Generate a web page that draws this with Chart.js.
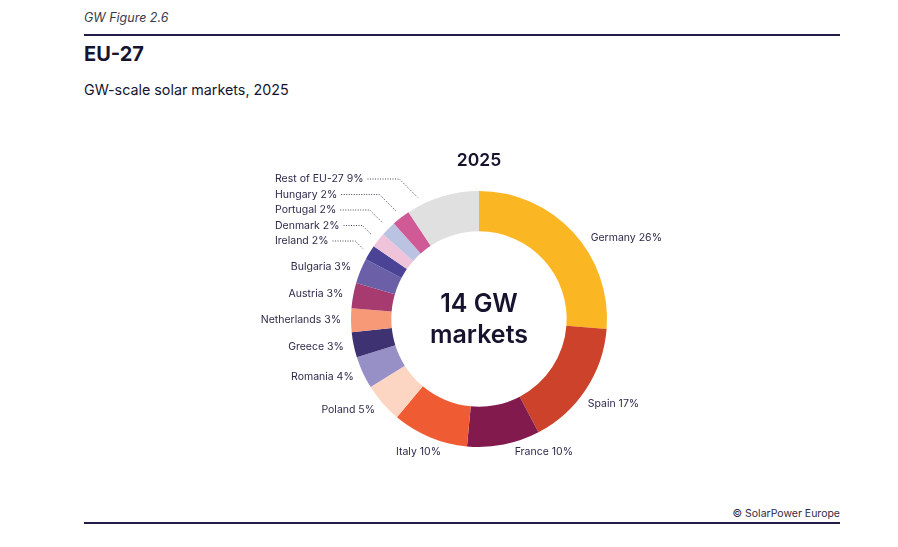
<!DOCTYPE html>
<html>
<head>
<meta charset="utf-8">
<script src="https://cdn.jsdelivr.net/npm/chart.js@4"></script>
<style>
  body { margin: 0; width: 898px; height: 547px; background: #fff; font-family: Inter, "Noto Sans", sans-serif; color: #16142f; overflow: hidden; }
  .fig { position: absolute; left: 84px; top: 10px; font-size: 12.5px; font-style: italic; color: #3b3a4a; }
  .rule { position: absolute; left: 84px; width: 756px; height: 1.5px; background: #221d48; }
  .title { position: absolute; left: 84px; top: 42px; font-size: 20px; font-weight: 700; }
  .sub { position: absolute; left: 84px; top: 81px; font-size: 14.3px; }
  .credit { position: absolute; right: 58px; top: 507px; font-size: 10.5px; color: #2e2c45; }
  #wrap { position: absolute; left: 0; top: 0; width: 898px; height: 547px; }
</style>
</head>
<body>
<div class="fig">GW Figure 2.6</div>
<div class="rule" style="top:34px"></div>
<div class="title">EU-27</div>
<div class="sub">GW-scale solar markets, 2025</div>
<div class="credit">© SolarPower Europe</div>
<div class="rule" style="top:522px"></div>
<div id="wrap"><canvas id="chart"></canvas></div>
<script>
const markets = ['Germany', 'Spain', 'France', 'Italy', 'Poland', 'Romania', 'Greece', 'Netherlands',
    'Austria', 'Bulgaria', 'Ireland', 'Denmark', 'Portugal', 'Hungary', 'Rest of EU-27'];
const shares = [26.3, 16.1, 9.2, 9.6, 5.0, 4.1, 3.2, 3.0, 3.2, 3.2, 1.9, 1.9, 1.9, 2.3, 9.3];
const shareLabels = ['26%', '17%', '10%', '10%', '5%', '4%', '3%', '3%', '3%', '3%', '2%', '2%', '2%', '2%', '9%'];
const sliceColors = ['#fbb723', '#cc422b', '#821a4e', '#ef5b33', '#fcd5c3', '#9690c6', '#3e3272', '#f79877',
    '#a73a6e', '#6b5fa8', '#4b4396', '#efc3d9', '#bac3e2', '#cf5a96', '#e0e0e0'];

// small slices get a stacked callout column with dotted leaders (top row first)
const calloutOrder = [14, 13, 12, 11, 10];
// label angle overrides in clock degrees (otherwise mid-angle of the slice)
const labelAngles = { 0: 54, 1: 128, 2: 165, 3: 196 };

const labelColor = '#2c2a4a';

const sliceLabels = {
    id: 'sliceLabels',
    afterDatasetsDraw(chart) {
        const ctx = chart.ctx;
        const arcs = chart.getDatasetMeta(0).data;
        const cx = arcs[0].x, cy = arcs[0].y, R = arcs[0].outerRadius;
        ctx.save();
        ctx.font = '10.5px Inter';
        ctx.fillStyle = labelColor;
        ctx.strokeStyle = '#4a4858';
        ctx.lineWidth = 1;
        arcs.forEach((arc, i) => {
            const text = markets[i] + ' ' + shareLabels[i];
            const row = calloutOrder.indexOf(i);
            if (row >= 0) {
                const f = i === 14 ? 0.2 : 0.5;
                const a = arc.startAngle + (arc.endAngle - arc.startAngle) * f;
                const ax = cx + Math.cos(a) * (R + 8), ay = cy + Math.sin(a) * (R + 8);
                const tx = cx - 204, ty = cy - 140 + row * 15.5;
                ctx.textAlign = 'left';
                ctx.textBaseline = 'middle';
                ctx.fillText(text, tx, ty);
                const w = ctx.measureText(text).width;
                ctx.setLineDash([1, 1.5]);
                ctx.beginPath();
                ctx.moveTo(tx + w + 4, ty);
                ctx.lineTo(ax - (ay - ty), ty);
                ctx.lineTo(ax, ay);
                ctx.stroke();
                ctx.setLineDash([]);
            } else {
                const a = labelAngles[i] !== undefined
                    ? (labelAngles[i] - 90) * Math.PI / 180
                    : (arc.startAngle + arc.endAngle) / 2;
                const r = R + 10;
                const x = cx + Math.cos(a) * r, y = cy + Math.sin(a) * r;
                ctx.textAlign = Math.cos(a) < 0 ? 'right' : 'left';
                ctx.textBaseline = 'middle';
                ctx.fillText(text, x, y);
            }
        });
        // centre text and year heading
        ctx.fillStyle = '#15132e';
        ctx.textAlign = 'center';
        ctx.textBaseline = 'alphabetic';
        ctx.font = '600 25px Inter';
        ctx.fillText('14 GW', cx, cy - 7);
        ctx.fillText('markets', cx, cy + 24);
        ctx.font = '600 17.5px Inter';
        ctx.fillText('2025', cx, cy - 153);
        ctx.restore();
    }
};

new Chart(document.getElementById('chart'), {
    type: 'doughnut',
    data: {
        labels: markets,
        datasets: [{ data: shares, backgroundColor: sliceColors, borderWidth: 0 }]
    },
    options: {
        responsive: true,
        maintainAspectRatio: false,
        animation: false,
        cutout: '68.5%',
        layout: { padding: { left: 351, right: 291, top: 191, bottom: 100 } },
        plugins: { legend: { display: false }, tooltip: { enabled: false } }
    },
    plugins: [sliceLabels]
});
</script>
</body>
</html>
